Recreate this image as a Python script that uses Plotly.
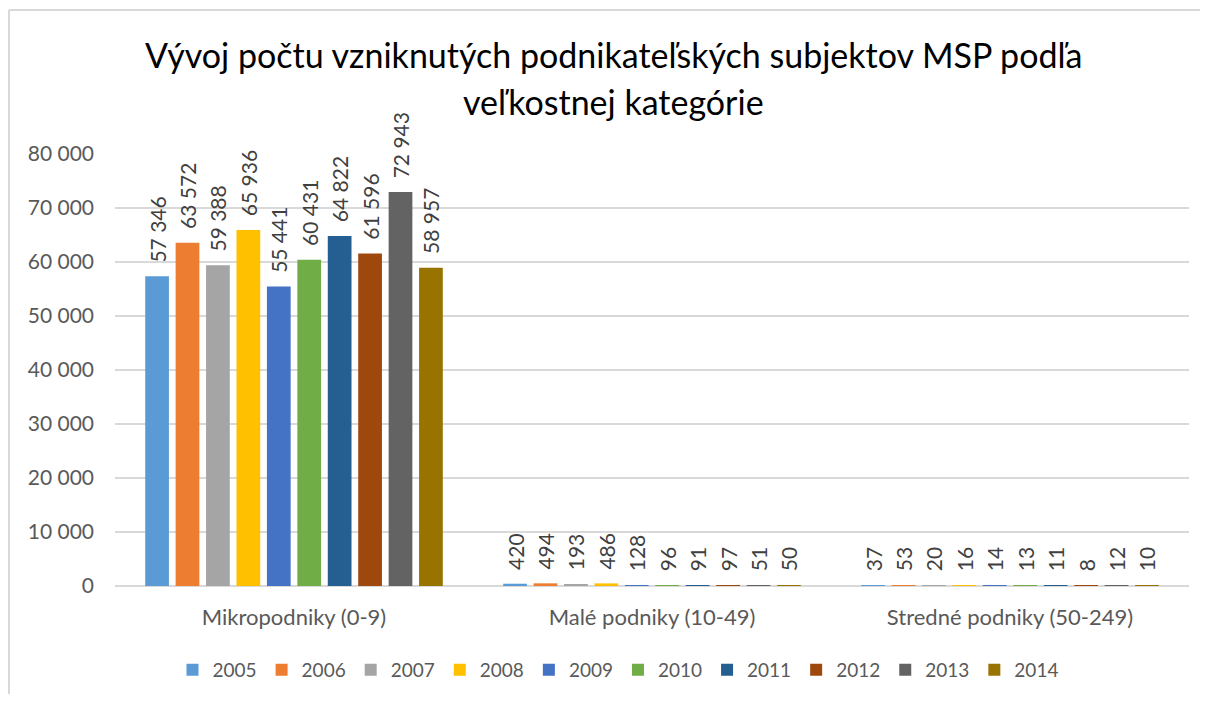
import plotly.graph_objects as go

categories = ["Mikropodniky (0-9)", "Malé podniky (10-49)", "Stredné podniky (50-249)"]
years = ["2005", "2006", "2007", "2008", "2009", "2010", "2011", "2012", "2013", "2014"]
v2005 = [57346, 420, 37]
v2006 = [63572, 494, 53]
v2007 = [59388, 193, 20]
v2008 = [65936, 486, 16]
v2009 = [55441, 128, 14]
v2010 = [60431, 96, 13]
v2011 = [64822, 91, 11]
v2012 = [61596, 97, 8]
v2013 = [72943, 51, 12]
v2014 = [58957, 50, 10]
series = [v2005, v2006, v2007, v2008, v2009, v2010, v2011, v2012, v2013, v2014]
colors = ["#5B9BD5", "#ED7D31", "#A5A5A5", "#FFC000", "#4472C4",
          "#70AD47", "#255E91", "#9E480E", "#636363", "#997300"]
title_line1 = "Vývoj počtu vzniknutých podnikateľských subjektov MSP podľa"
title_line2 = "veľkostnej kategórie"

FONT = "Lato, 'Open Sans', sans-serif"

# page is offset by the 8px body margin; figure sized to fit the window
W, H = 1192, 686
L, R, T, B = 107, 11, 146, 108
PW, PH = W - L - R, H - T - B

fig = go.Figure()
for yr, vals, c in zip(years, series, colors):
    fig.add_trace(go.Bar(
        name=yr, x=categories, y=vals, marker_color=c,
        marker_line_width=0,
        text=vals, texttemplate="\u00a0\u00a0%{y:,}",
        textposition="outside", textangle=-90, constraintext="none",
        textfont=dict(size=21, color="#404040", family=FONT),
        cliponaxis=False,
    ))

fig.update_layout(
    width=W, height=H,
    separators=", ",
    barmode="group", bargap=0.15, bargroupgap=0.22,
    plot_bgcolor="white", paper_bgcolor="white",
    margin=dict(l=L, r=R, t=T, b=B, autoexpand=False),
    font=dict(family=FONT, color="#595959"),
    xaxis=dict(showgrid=False, showline=False, ticks="", automargin=False,
               ticklabelstandoff=16,
               tickfont=dict(size=22, color="#595959")),
    yaxis=dict(range=[0, 80000], dtick=10000, tickformat=",d", automargin=False,
               showgrid=True, gridcolor="#D9D9D9", gridwidth=1.5,
               zeroline=True, zerolinecolor="#D9D9D9", zerolinewidth=1.5,
               showline=False, tickfont=dict(size=21, color="#595959"),
               ticklabelstandoff=20),
    legend=dict(orientation="h", xref="container", yref="container",
                x=610 / W, xanchor="center", y=1 - 662 / H, yanchor="middle",
                font=dict(size=19, color="#595959"), itemwidth=30,
                traceorder="normal"),
    annotations=[
        dict(text=title_line1, xref="paper", yref="paper", showarrow=False,
             x=(605 - L) / PW, xanchor="center", y=(H - 46 - B) / PH, yanchor="middle",
             font=dict(size=34, color="#000000", family=FONT)),
        dict(text=title_line2, xref="paper", yref="paper", showarrow=False,
             x=(605 - L) / PW, xanchor="center", y=(H - 94 - B) / PH, yanchor="middle",
             font=dict(size=34, color="#000000", family=FONT)),
    ],
    shapes=[
        dict(type="line", xref="paper", yref="paper",
             x0=(1 - L) / PW, x1=(W + 40 - L) / PW,
             y0=(H - 2 - B) / PH, y1=(H - 2 - B) / PH,
             line=dict(color="#D9D9D9", width=2)),
        dict(type="line", xref="paper", yref="paper",
             x0=(1 - L) / PW, x1=(1 - L) / PW,
             y0=-(B + 40) / PH, y1=(H - 2 - B) / PH,
             line=dict(color="#D9D9D9", width=2)),
    ],
)

fig.write_html("out.html")
